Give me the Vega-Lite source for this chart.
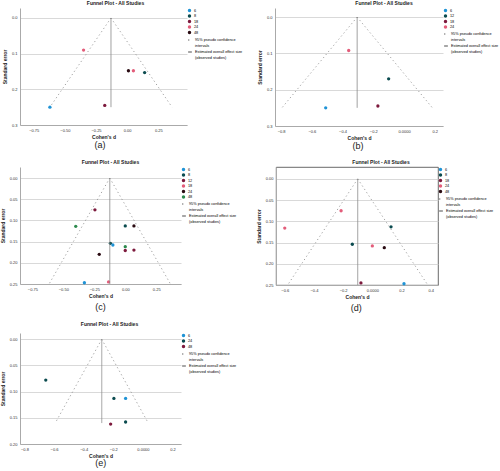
{
  "$schema": "https://vega.github.io/schema/vega-lite/v6.json",
  "padding": {"left": 0, "top": 1, "right": 0, "bottom": 0},
  "background": "white",
  "datasets": {
    "a_pts": [
      {"x": -0.35, "y": 0.09, "n": "24"},
      {"x": 0.01, "y": 0.148, "n": "48"},
      {"x": 0.05, "y": 0.148, "n": "24"},
      {"x": 0.14, "y": 0.153, "n": "8"},
      {"x": -0.62, "y": 0.25, "n": "6"},
      {"x": -0.18, "y": 0.245, "n": "18"}
    ],
    "a_lines": [
      {"x": -0.13, "y": 0, "x2": -0.62, "y2": 0.25, "type": "95% pseudo confidence"},
      {"x": -0.13, "y": 0, "x2": 0.36, "y2": 0.25, "type": "95% pseudo confidence"},
      {"x": -0.13, "y": 0, "x2": -0.13, "y2": 0.25, "type": "Estimated overall effect size"}
    ],
    "b_pts": [
      {"x": -0.36, "y": 0.092, "n": "24"},
      {"x": -0.10, "y": 0.17, "n": "12"},
      {"x": -0.17, "y": 0.245, "n": "18"},
      {"x": -0.51, "y": 0.25, "n": "6"}
    ],
    "b_lines": [
      {"x": -0.305, "y": 0, "x2": -0.795, "y2": 0.25, "type": "95% pseudo confidence"},
      {"x": -0.305, "y": 0, "x2": 0.185, "y2": 0.25, "type": "95% pseudo confidence"},
      {"x": -0.305, "y": 0, "x2": -0.305, "y2": 0.25, "type": "Estimated overall effect size"}
    ],
    "c_pts": [
      {"x": -0.245, "y": 0.075, "n": "12"},
      {"x": -0.40, "y": 0.114, "n": "48"},
      {"x": 0.0, "y": 0.113, "n": "8"},
      {"x": 0.07, "y": 0.113, "n": "24"},
      {"x": -0.12, "y": 0.154, "n": "8"},
      {"x": -0.10, "y": 0.158, "n": "6"},
      {"x": 0.0, "y": 0.162, "n": "48"},
      {"x": 0.0, "y": 0.171, "n": "12"},
      {"x": 0.07, "y": 0.17, "n": "12"},
      {"x": -0.21, "y": 0.18, "n": "24"},
      {"x": -0.33, "y": 0.247, "n": "6"},
      {"x": -0.135, "y": 0.245, "n": "18"}
    ],
    "c_lines": [
      {"x": -0.125, "y": 0, "x2": -0.615, "y2": 0.25, "type": "95% pseudo confidence"},
      {"x": -0.125, "y": 0, "x2": 0.365, "y2": 0.25, "type": "95% pseudo confidence"},
      {"x": -0.125, "y": 0, "x2": -0.125, "y2": 0.25, "type": "Estimated overall effect size"}
    ],
    "d_pts": [
      {"x": -0.214, "y": 0.075, "n": "24"},
      {"x": -0.60, "y": 0.116, "n": "24"},
      {"x": 0.128, "y": 0.113, "n": "8"},
      {"x": -0.137, "y": 0.154, "n": "8"},
      {"x": 0.0, "y": 0.158, "n": "24"},
      {"x": 0.082, "y": 0.162, "n": "48"},
      {"x": -0.078, "y": 0.245, "n": "18"},
      {"x": 0.217, "y": 0.247, "n": "6"}
    ],
    "d_lines": [
      {"x": -0.10, "y": 0, "x2": -0.58, "y2": 0.25, "type": "95% pseudo confidence"},
      {"x": -0.10, "y": 0, "x2": 0.38, "y2": 0.25, "type": "95% pseudo confidence"},
      {"x": -0.10, "y": 0, "x2": -0.10, "y2": 0.25, "type": "Estimated overall effect size"}
    ],
    "e_pts": [
      {"x": -0.656, "y": 0.078, "n": "24"},
      {"x": -0.196, "y": 0.113, "n": "24"},
      {"x": -0.117, "y": 0.113, "n": "6"},
      {"x": -0.117, "y": 0.158, "n": "24"},
      {"x": -0.218, "y": 0.162, "n": "48"}
    ],
    "e_lines": [
      {"x": -0.278, "y": 0, "x2": -0.592, "y2": 0.16, "type": "95% pseudo confidence"},
      {"x": -0.278, "y": 0, "x2": 0.036, "y2": 0.16, "type": "95% pseudo confidence"},
      {"x": -0.278, "y": 0, "x2": -0.278, "y2": 0.16, "type": "Estimated overall effect size"}
    ]
  },
  "resolve": {"scale": {"x": "independent", "y": "independent", "color": "independent", "strokeDash": "independent"}, "legend": {"color": "independent", "strokeDash": "independent"}, "axis": {"x": "independent", "y": "independent"}},
  "vconcat": [
    {
      "resolve": {"scale": {"x": "independent", "y": "independent", "color": "independent", "strokeDash": "independent"}, "legend": {"color": "independent", "strokeDash": "independent"}},
      "spacing": 14,
      "hconcat": [
        {
          "title": {"text": "(a)", "orient": "bottom", "anchor": "start", "fontSize": 9, "fontWeight": "normal", "dx": 92, "offset": 2},
          "resolve": {"scale": {"x": "independent", "y": "independent", "color": "independent", "strokeDash": "independent"}, "legend": {"color": "independent", "strokeDash": "independent"}},
          "vconcat": [
            {
              "title": {"text": "Funnel Plot - All Studies", "anchor": "middle", "frame": "group", "dx": 12},
              "width": 167, "height": 117,
              "encoding": {
                "x": {"field": "x", "type": "quantitative", "scale": {"domain": [-0.86, 0.48], "nice": false, "zero": false}, "axis": {"title": "Cohen's d", "values": [-0.75, -0.5, -0.25, 0, 0.25], "format": ".2f"}},
                "y": {"field": "y", "type": "quantitative", "scale": {"domain": [-0.028, 0.3], "nice": false, "zero": false, "reverse": true}, "axis": {"title": "Standard error", "values": [0, 0.1, 0.2, 0.3], "format": ".1f"}}
              },
              "layer": [
                {
                  "data": {"name": "a_pts"},
                  "mark": {"type": "point", "filled": true, "size": 11, "opacity": 1},
                  "encoding": {
                    "color": {"field": "n", "type": "nominal", "scale": {"domain": ["6", "8", "18", "24", "48"], "range": ["#1f93d6", "#0b4b4f", "#7d1a3d", "#e35d7a", "#2a0b12"]}, "legend": {}}
                  }
                },
                {
                  "data": {"name": "a_lines"},
                  "mark": {"type": "rule", "color": "#888", "strokeWidth": 0.8},
                  "encoding": {
                    "x2": {"field": "x2"}, "y2": {"field": "y2"},
                    "strokeDash": {"field": "type", "type": "nominal", "scale": {"domain": ["95% pseudo confidence", "intervals", "Estimated overall effect size", "(observed studies)"], "range": [[1.2, 2.8], [0, 100], [1, 0], [0, 100]]}, "legend": {"symbolStrokeColor": "#888", "symbolSize": 14, "rowPadding": 0}}
                  }
                }
              ]
            }
          ]
        },
        {
          "title": {"text": "(b)", "orient": "bottom", "anchor": "start", "fontSize": 9, "fontWeight": "normal", "dx": 95, "offset": 2},
          "resolve": {"scale": {"x": "independent", "y": "independent", "color": "independent", "strokeDash": "independent"}, "legend": {"color": "independent", "strokeDash": "independent"}},
          "vconcat": [
            {
              "title": {"text": "Funnel Plot - All Studies", "anchor": "middle", "frame": "group", "dx": 25},
              "width": 168, "height": 118,
              "encoding": {
                "x": {"field": "x", "type": "quantitative", "scale": {"domain": [-0.84, 0.254], "nice": false, "zero": false}, "axis": {"title": "Cohen's d", "values": [-0.8, -0.6, -0.4, -0.2, 0, 0.2], "labelExpr": "datum.value == 0 ? '0.0000' : format(datum.value, '.1f')"}},
                "y": {"field": "y", "type": "quantitative", "scale": {"domain": [-0.025, 0.3], "nice": false, "zero": false, "reverse": true}, "axis": {"title": "Standard error", "values": [0, 0.1, 0.2, 0.3], "format": ".1f"}}
              },
              "layer": [
                {
                  "data": {"name": "b_pts"},
                  "mark": {"type": "point", "filled": true, "size": 11, "opacity": 1},
                  "encoding": {
                    "color": {"field": "n", "type": "nominal", "scale": {"domain": ["6", "12", "18", "24"], "range": ["#1f93d6", "#0b4b4f", "#7d1a3d", "#e35d7a"]}, "legend": {}}
                  }
                },
                {
                  "data": {"name": "b_lines"},
                  "mark": {"type": "rule", "color": "#888", "strokeWidth": 0.8},
                  "encoding": {
                    "x2": {"field": "x2"}, "y2": {"field": "y2"},
                    "strokeDash": {"field": "type", "type": "nominal", "scale": {"domain": ["95% pseudo confidence", "intervals", "Estimated overall effect size", "(observed studies)"], "range": [[1.2, 2.8], [0, 100], [1, 0], [0, 100]]}, "legend": {"symbolStrokeColor": "#888", "symbolSize": 14, "rowPadding": 0}}
                  }
                }
              ]
            }
          ]
        }
      ]
    },
    {
      "resolve": {"scale": {"x": "independent", "y": "independent", "color": "independent", "strokeDash": "independent"}, "legend": {"color": "independent", "strokeDash": "independent"}},
      "spacing": 18,
      "hconcat": [
        {
          "title": {"text": "(c)", "orient": "bottom", "anchor": "start", "fontSize": 9, "fontWeight": "normal", "dx": 95, "offset": 5},
          "resolve": {"scale": {"x": "independent", "y": "independent", "color": "independent", "strokeDash": "independent"}, "legend": {"color": "independent", "strokeDash": "independent"}},
          "vconcat": [
            {
              "title": {"text": "Funnel Plot - All Studies", "anchor": "middle", "frame": "group", "dx": 10},
              "width": 161, "height": 117,
              "encoding": {
                "x": {"field": "x", "type": "quantitative", "scale": {"domain": [-0.85, 0.45], "nice": false, "zero": false}, "axis": {"title": "Cohen's d", "values": [-0.75, -0.5, -0.25, 0, 0.25], "format": ".2f"}},
                "y": {"field": "y", "type": "quantitative", "scale": {"domain": [-0.026, 0.25], "nice": false, "zero": false, "reverse": true}, "axis": {"title": "Standard error", "values": [0, 0.05, 0.1, 0.15, 0.2, 0.25], "format": ".2f"}}
              },
              "layer": [
                {
                  "data": {"name": "c_pts"},
                  "mark": {"type": "point", "filled": true, "size": 11, "opacity": 1},
                  "encoding": {
                    "color": {"field": "n", "type": "nominal", "scale": {"domain": ["6", "8", "12", "18", "24", "48"], "range": ["#1f93d6", "#0b4b4f", "#7d1a3d", "#e35d7a", "#2a0b12", "#2d8a4e"]}, "legend": {}}
                  }
                },
                {
                  "data": {"name": "c_lines"},
                  "mark": {"type": "rule", "color": "#888", "strokeWidth": 0.8},
                  "encoding": {
                    "x2": {"field": "x2"}, "y2": {"field": "y2"},
                    "strokeDash": {"field": "type", "type": "nominal", "scale": {"domain": ["95% pseudo confidence", "intervals", "Estimated overall effect size", "(observed studies)"], "range": [[1.2, 2.8], [0, 100], [1, 0], [0, 100]]}, "legend": {"symbolStrokeColor": "#888", "symbolSize": 14, "rowPadding": 0}}
                  }
                }
              ]
            }
          ]
        },
        {
          "title": {"text": "(d)", "orient": "bottom", "anchor": "start", "fontSize": 9, "fontWeight": "normal", "dx": 95, "offset": 5},
          "resolve": {"scale": {"x": "independent", "y": "independent", "color": "independent", "strokeDash": "independent"}, "legend": {"color": "independent", "strokeDash": "independent"}},
          "vconcat": [
            {
              "title": {"text": "Funnel Plot - All Studies", "anchor": "middle", "frame": "group", "dx": 24},
              "width": 162, "height": 118,
              "view": {"stroke": "#444", "strokeWidth": 0.8},
              "encoding": {
                "x": {"field": "x", "type": "quantitative", "scale": {"domain": [-0.66, 0.45], "nice": false, "zero": false}, "axis": {"title": "Cohen's d", "values": [-0.6, -0.4, -0.2, 0, 0.2, 0.4], "labelExpr": "datum.value == 0 ? '0.0000' : format(datum.value, '.1f')"}},
                "y": {"field": "y", "type": "quantitative", "scale": {"domain": [-0.028, 0.25], "nice": false, "zero": false, "reverse": true}, "axis": {"title": "Standard error", "values": [0, 0.05, 0.1, 0.15, 0.2, 0.25], "format": ".2f"}}
              },
              "layer": [
                {
                  "data": {"name": "d_pts"},
                  "mark": {"type": "point", "filled": true, "size": 11, "opacity": 1},
                  "encoding": {
                    "color": {"field": "n", "type": "nominal", "scale": {"domain": ["6", "8", "18", "24", "48"], "range": ["#1f93d6", "#0b4b4f", "#7d1a3d", "#e35d7a", "#2a0b12"]}, "legend": {}}
                  }
                },
                {
                  "data": {"name": "d_lines"},
                  "mark": {"type": "rule", "color": "#888", "strokeWidth": 0.8},
                  "encoding": {
                    "x2": {"field": "x2"}, "y2": {"field": "y2"},
                    "strokeDash": {"field": "type", "type": "nominal", "scale": {"domain": ["95% pseudo confidence", "intervals", "Estimated overall effect size", "(observed studies)"], "range": [[1.2, 2.8], [0, 100], [1, 0], [0, 100]]}, "legend": {"symbolStrokeColor": "#888", "symbolSize": 14, "rowPadding": 0}}
                  }
                }
              ]
            }
          ]
        }
      ]
    },
    {
      "title": {"text": "(e)", "orient": "bottom", "anchor": "start", "fontSize": 9, "fontWeight": "normal", "dx": 95, "offset": 1},
      "resolve": {"scale": {"x": "independent", "y": "independent", "color": "independent", "strokeDash": "independent"}, "legend": {"color": "independent", "strokeDash": "independent"}},
      "vconcat": [
        {
          "title": {"text": "Funnel Plot - All Studies", "anchor": "middle", "frame": "group", "dx": 9, "offset": 6},
          "width": 161, "height": 111,
          "encoding": {
            "x": {"field": "x", "type": "quantitative", "scale": {"domain": [-0.83, 0.257], "nice": false, "zero": false}, "axis": {"title": "Cohen's d", "values": [-0.8, -0.6, -0.4, -0.2, 0, 0.2], "labelExpr": "datum.value == 0 ? '0.0000' : format(datum.value, '.1f')"}},
            "y": {"field": "y", "type": "quantitative", "scale": {"domain": [-0.012, 0.2], "nice": false, "zero": false, "reverse": true}, "axis": {"title": "Standard error", "values": [0, 0.05, 0.1, 0.15, 0.2], "format": ".2f"}}
          },
          "layer": [
            {
              "data": {"name": "e_pts"},
              "mark": {"type": "point", "filled": true, "size": 11, "opacity": 1},
              "encoding": {
                "color": {"field": "n", "type": "nominal", "scale": {"domain": ["6", "24", "48"], "range": ["#1f93d6", "#0b4b4f", "#7d1a3d"]}, "legend": {}}
              }
            },
            {
              "data": {"name": "e_lines"},
              "mark": {"type": "rule", "color": "#888", "strokeWidth": 0.8},
              "encoding": {
                "x2": {"field": "x2"}, "y2": {"field": "y2"},
                "strokeDash": {"field": "type", "type": "nominal", "scale": {"domain": ["95% pseudo confidence", "intervals", "Estimated overall effect size", "(observed studies)"], "range": [[1.2, 2.8], [0, 100], [1, 0], [0, 100]]}, "legend": {"symbolStrokeColor": "#888", "symbolSize": 14, "rowPadding": 0}}
              }
            }
          ]
        }
      ]
    }
  ],
  "spacing": 8,
  "config": {
    "font": "Liberation Sans",
    "view": {"stroke": null},
    "concat": {"spacing": 12},
    "axis": {"labelFontSize": 4, "titleFontSize": 5, "titleFontWeight": "bold", "labelColor": "#333", "titleColor": "#222", "domainColor": "#aaa", "ticks": false, "gridColor": "#cfcfcf", "gridWidth": 0.8, "labelPadding": 3, "titlePadding": 4},
    "axisX": {"grid": false, "titlePadding": 2},
    "legend": {"labelFontSize": 3.8, "symbolSize": 12, "rowPadding": 0.5, "padding": 0, "offset": 0, "labelOffset": 2, "title": null, "labelLimit": 80, "layout": {"right": {"anchor": "start", "direction": "vertical", "margin": 2}}},
    "title": {"fontSize": 5, "fontWeight": "bold", "offset": 2, "color": "#222"}
  }
}
